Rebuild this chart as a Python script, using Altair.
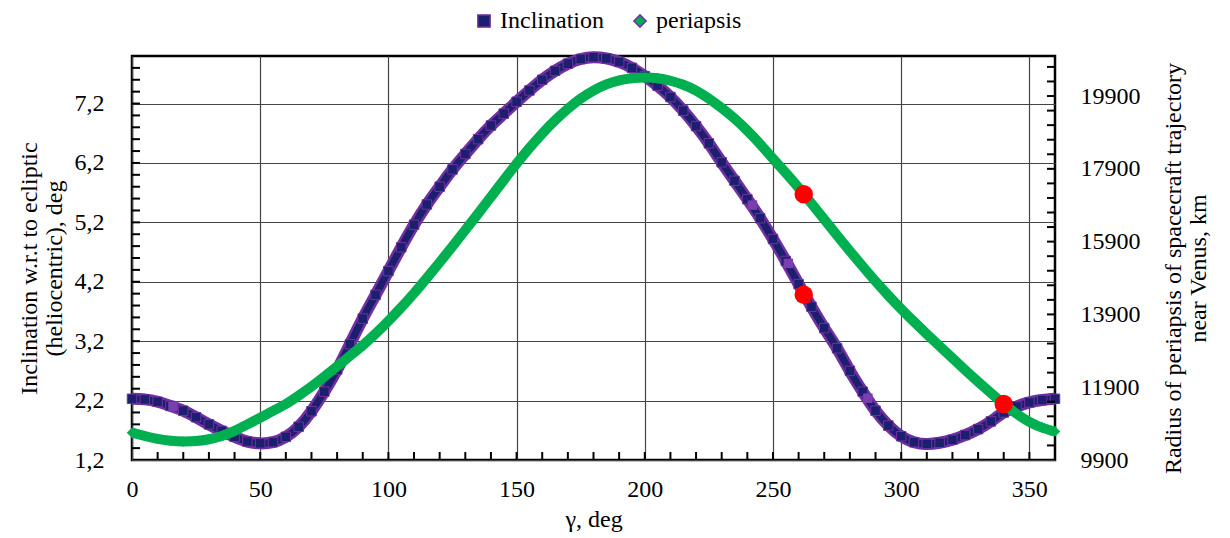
import altair as alt
import pandas as pd

# ---------------- data ----------------
deg = [0, 5, 10, 15, 20, 25, 30, 35, 40, 45, 50, 55, 60, 65, 70, 75, 80, 85, 90, 95,
       100, 105, 110, 115, 120, 125, 130, 135, 140, 145, 150, 155, 160, 165, 170, 175,
       180, 185, 190, 195, 200, 205, 210, 215, 220, 225, 230, 235, 240, 245, 250, 255,
       260, 265, 270, 275, 280, 285, 290, 295, 300, 305, 310, 315, 320, 325, 330, 335,
       340, 345, 350, 355, 360]

inclination = [2.23, 2.22, 2.18, 2.11, 2.03, 1.92, 1.80, 1.69, 1.59, 1.51, 1.48, 1.50,
               1.59, 1.76, 2.02, 2.35, 2.72, 3.15, 3.58, 3.98, 4.38, 4.78, 5.16, 5.50,
               5.80, 6.09, 6.35, 6.60, 6.83, 7.03, 7.23, 7.42, 7.60, 7.75, 7.87, 7.95,
               7.98, 7.96, 7.90, 7.80, 7.66, 7.50, 7.31, 7.08, 6.82, 6.53, 6.21, 5.90,
               5.59, 5.27, 4.92, 4.55, 4.16, 3.78, 3.42, 3.08, 2.70, 2.35, 2.03, 1.78,
               1.60, 1.50, 1.47, 1.49, 1.54, 1.62, 1.72, 1.85, 2.00, 2.10, 2.17, 2.21, 2.23]

periapsis = [10650, 10560, 10480, 10430, 10410, 10420, 10470, 10560, 10700, 10880,
             11060, 11250, 11440, 11670, 11920, 12190, 12470, 12760, 13050, 13370,
             13720, 14090, 14480, 14900, 15330, 15770, 16220, 16670, 17130, 17590,
             18040, 18470, 18870, 19230, 19550, 19830, 20050, 20220, 20330, 20390,
             20410, 20390, 20320, 20210, 20050, 19830, 19570, 19280, 18950, 18580,
             18180, 17790, 17380, 16950, 16510, 16070, 15640, 15220, 14810, 14420,
             14050, 13700, 13360, 13030, 12700, 12370, 12050, 11740, 11440, 11170,
             10950, 10790, 10680]

# highlighted (lighter) inclination markers
hl_deg = [16, 242, 256, 287]
hl_inc = [2.10, 5.49, 4.51, 2.24]

# red marked points
red_left_deg = [262]
red_left_val = [3.98]
red_right_deg = [262, 340]
red_right_val = [17200, 11440]

series_names = ["Inclination", "periapsis"]

# axis ticks
x_major = [0, 50, 100, 150, 200, 250, 300, 350]
x_minor = [10, 20, 30, 40, 50, 60, 70, 80, 90, 100, 110, 120, 130, 140, 150, 160, 170,
           180, 190, 200, 210, 220, 230, 240, 250, 260, 270, 280, 290, 300, 310, 320,
           330, 340, 350]
left_major = [1.2, 2.2, 3.2, 4.2, 5.2, 6.2, 7.2]
left_minor = [1.4, 1.6, 1.8, 2.0, 2.2, 2.4, 2.6, 2.8, 3.0, 3.2, 3.4, 3.6, 3.8, 4.0,
              4.2, 4.4, 4.6, 4.8, 5.0, 5.2, 5.4, 5.6, 5.8, 6.0, 6.2, 6.4, 6.6, 6.8,
              7.0, 7.2, 7.4, 7.6, 7.8]
right_major = [9900, 11900, 13900, 15900, 17900, 19900]
right_minor = [10300, 10700, 11100, 11500, 11900, 12300, 12700, 13100, 13500, 13900,
               14300, 14700, 15100, 15500, 15900, 16300, 16700, 17100, 17500, 17900,
               18300, 18700, 19100, 19500, 19900, 20300, 20700]

# ---------------- frames ----------------
df_inc = pd.DataFrame({"deg": deg, "val": inclination, "series": series_names[0]})
df_per = pd.DataFrame({"deg": deg, "val": periapsis, "series": series_names[1]})
df_hl = pd.DataFrame({"deg": hl_deg, "val": hl_inc})
df_red_l = pd.DataFrame({"deg": red_left_deg, "val": red_left_val})
df_red_r = pd.DataFrame({"deg": red_right_deg, "val": red_right_val})
df_xt = pd.DataFrame({"deg": x_minor})
df_lt = pd.DataFrame({"val": left_minor})
df_rt = pd.DataFrame({"val": right_minor})

W, H = 923, 404
FONT = "Liberation Serif"
FS = 24

x_scale = alt.Scale(domain=[0, 360], nice=False, zero=False)
l_scale = alt.Scale(domain=[1.2, 8.0], nice=False, zero=False)
r_scale = alt.Scale(domain=[9900, 21000], nice=False, zero=False)

x_axis = alt.Axis(values=x_major, grid=True, gridColor="#444444", gridWidth=1.2,
                  ticks=False, domain=False, labelPadding=17, labelFlush=False,
                  labelOverlap=False, title="γ, deg", titlePadding=6)
l_axis = alt.Axis(orient="left", values=left_major, grid=True, gridColor="#444444",
                  gridWidth=1.2, ticks=False, domain=False, labelPadding=28,
                  labelExpr="replace(format(datum.value, '.1f'), '.', ',')",
                  title=["Inclination w.r.t to ecliptic", "(heliocentric), deg"],
                  titlePadding=8, titleLineHeight=25, titleY=212)
r_axis = alt.Axis(orient="right", values=right_major, format="d", grid=False,
                  ticks=False, domain=False, labelPadding=25,
                  title=["Radius of periapsis of spacecraft trajectory", "near Venus, km"],
                  titleAngle=-90, titleBaseline="top", titleX=106, titleY=212,
                  titleLineHeight=25)

legend = alt.Legend(orient="none", legendX=340, legendY=-47, direction="horizontal",
                    title=None, labelFontSize=FS, labelFont=FONT, symbolSize=150,
                    columnPadding=24, labelColor="black")
color = alt.Color("series:N", scale=alt.Scale(domain=series_names,
                                              range=["#1c1f6e", "#00b050"]), legend=legend)
shape = alt.Shape("series:N", scale=alt.Scale(domain=series_names,
                                              range=["square", "diamond"]), legend=legend)

X = alt.X("deg:Q", scale=x_scale, axis=x_axis)
YL = alt.Y("val:Q", scale=l_scale, axis=l_axis)
YR = alt.Y("val:Q", scale=r_scale, axis=r_axis)

# ---------------- layers ----------------
bottom_ticks = alt.Chart(df_xt).mark_rule(color="black", strokeWidth=2).encode(
    x=X, y=alt.value(H), y2=alt.value(H - 8))
left_ticks = alt.Chart(df_lt).mark_rule(color="black", strokeWidth=2).encode(
    y=YL, x=alt.value(0), x2=alt.value(8))
right_ticks = alt.Chart(df_rt).mark_rule(color="black", strokeWidth=2).encode(
    y=YR, x=alt.value(W), x2=alt.value(W - 8))

inc_outer = alt.Chart(df_inc).mark_line(color="#7030a0", strokeWidth=12,
                                        interpolate="natural", strokeCap="butt").encode(x=X, y=YL)
inc_inner = alt.Chart(df_inc).mark_line(color="#1c1f6e", strokeWidth=7,
                                        interpolate="natural", strokeCap="butt").encode(x=X, y=YL)
inc_pts = alt.Chart(df_inc).mark_point(filled=True, size=90, stroke="#7030a0",
                                       strokeWidth=1, opacity=1).encode(
    x=X, y=YL, color=color, shape=shape)
hl_pts = alt.Chart(df_hl).mark_point(filled=True, shape="square", size=90,
                                     color="#7a3fae", opacity=1).encode(x=X, y=YL)
red_l = alt.Chart(df_red_l).mark_point(filled=True, shape="circle", size=340,
                                       color="#ff0000", opacity=1).encode(x=X, y=YL)

per_line = alt.Chart(df_per).mark_line(color="#00b050", strokeWidth=10,
                                       interpolate="natural", strokeCap="butt").encode(
    x=X, y=YR)
per_pts = alt.Chart(df_per).mark_point(filled=True, size=110, opacity=1).encode(
    x=X, y=YR, color=color, shape=shape)
red_r = alt.Chart(df_red_r).mark_point(filled=True, shape="circle", size=340,
                                       color="#ff0000", opacity=1).encode(x=X, y=YR)

left_group = alt.layer(left_ticks, bottom_ticks, inc_outer, inc_inner, inc_pts, hl_pts, red_l)
right_group = alt.layer(right_ticks, per_line, per_pts, red_r)

chart = alt.layer(left_group, right_group).resolve_scale(y="independent").properties(
    width=W, height=H,
    padding={"left": 124, "top": 48, "right": 160, "bottom": 74},
    autosize=alt.AutoSizeParams(type="none"),
).configure(font=FONT).configure_view(
    stroke="black", strokeWidth=2.5
).configure_axis(
    labelFont=FONT, titleFont=FONT, labelFontSize=FS, titleFontSize=FS,
    labelColor="black", titleColor="black", titleFontWeight="normal"
).configure_legend(labelFont=FONT)

chart.save("out.html", embed_options={"renderer": "svg", "actions": False})
